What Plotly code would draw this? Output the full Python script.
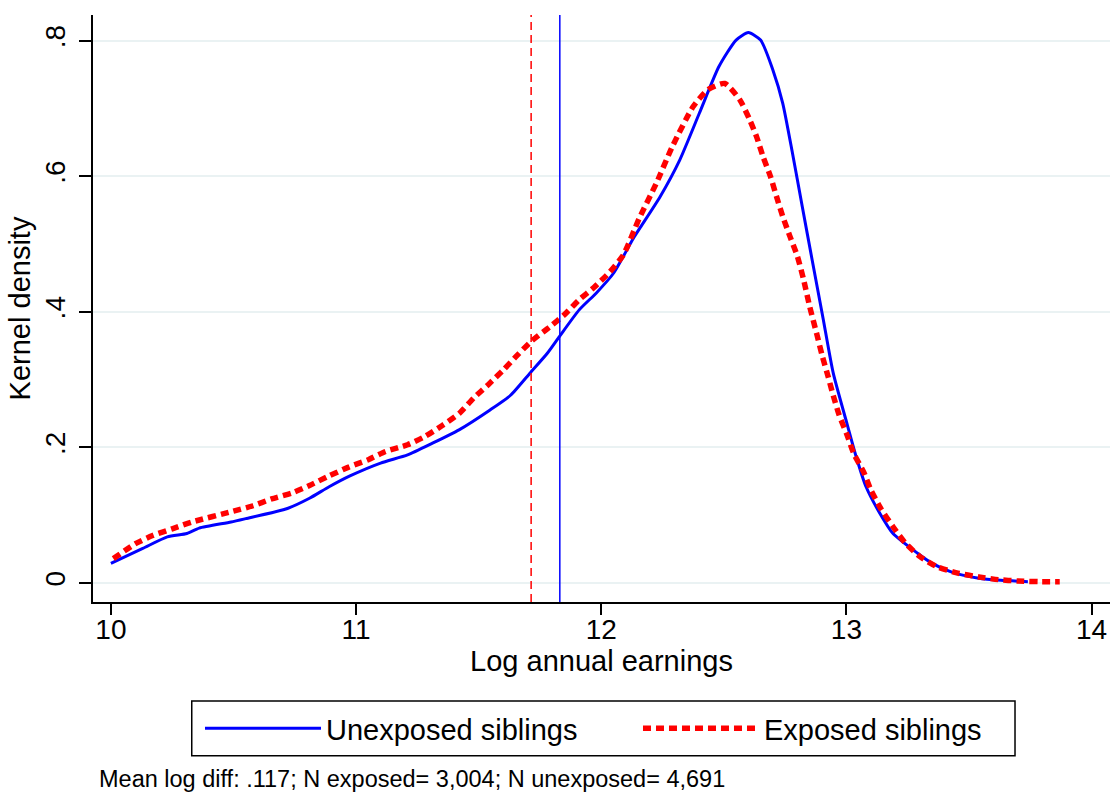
import plotly.graph_objects as go

# Kernel density, unexposed siblings (solid blue)
unexp_x = [10.00, 10.13, 10.23, 10.31, 10.36, 10.49, 10.55, 10.72, 10.81, 10.89,
           10.975, 11.10, 11.21, 11.31, 11.42, 11.545, 11.63, 11.71, 11.78, 11.83,
           11.91, 11.98, 12.05, 12.13, 12.16, 12.24, 12.32, 12.40, 12.48, 12.55,
           12.60, 12.65, 12.70, 12.74, 12.78, 12.82, 12.86, 12.905, 12.946, 13.00,
           13.04, 13.08, 13.136, 13.19, 13.29, 13.35, 13.43, 13.54, 13.63, 13.74]
unexp_y = [0.029, 0.051, 0.068, 0.073, 0.081, 0.090, 0.095, 0.110, 0.125, 0.142,
           0.158, 0.177, 0.189, 0.206, 0.226, 0.255, 0.277, 0.310, 0.339, 0.364,
           0.403, 0.428, 0.457, 0.508, 0.525, 0.570, 0.624, 0.693, 0.762, 0.801,
           0.812, 0.801, 0.757, 0.708, 0.634, 0.555, 0.477, 0.390, 0.310, 0.238,
           0.186, 0.142, 0.103, 0.073, 0.044, 0.029, 0.016, 0.007, 0.004, 0.002]

# Kernel density, exposed siblings (dashed red)
exp_x = [10.01, 10.10, 10.17, 10.25, 10.33, 10.50, 10.58, 10.655, 10.74, 10.81,
         10.89, 10.97, 11.05, 11.12, 11.21, 11.28, 11.35, 11.42, 11.48, 11.54,
         11.60, 11.66, 11.716, 11.79, 11.85, 11.91, 11.97, 12.035, 12.09, 12.155,
         12.225, 12.29, 12.375, 12.436, 12.504, 12.565, 12.606, 12.633, 12.66, 12.69,
         12.715, 12.74, 12.77, 12.80, 12.825, 12.85, 12.88, 12.90, 12.925, 12.946,
         12.97, 13.00, 13.03, 13.07, 13.10, 13.14, 13.19, 13.24, 13.30, 13.37,
         13.45, 13.54, 13.62, 13.70, 13.79, 13.87]
exp_y = [0.036, 0.058, 0.070, 0.080, 0.090, 0.106, 0.114, 0.124, 0.133, 0.144,
         0.158, 0.171, 0.182, 0.194, 0.204, 0.216, 0.232, 0.250, 0.273, 0.293,
         0.314, 0.337, 0.357, 0.378, 0.396, 0.418, 0.436, 0.459, 0.484, 0.538,
         0.590, 0.644, 0.703, 0.728, 0.737, 0.713, 0.683, 0.659, 0.629, 0.600,
         0.570, 0.541, 0.511, 0.482, 0.448, 0.408, 0.366, 0.337, 0.305, 0.277,
         0.248, 0.221, 0.191, 0.164, 0.137, 0.110, 0.083, 0.059, 0.039, 0.024,
         0.015, 0.009, 0.005, 0.003, 0.002, 0.002]

# Group means (vertical reference lines)
mean_exposed = 11.714
mean_unexposed = 11.831

x_ticks = [10, 11, 12, 13, 14]
x_tick_text = ["10", "11", "12", "13", "14"]
y_ticks = [0, 0.2, 0.4, 0.6, 0.8]
y_tick_text = ["0", ".2", ".4", ".6", ".8"]

note_text = "Mean log diff: .117; N exposed= 3,004; N unexposed= 4,691"

FONT = "Liberation Sans, Arial, Helvetica, sans-serif"

fig = go.Figure()
fig.add_trace(go.Scatter(
    x=unexp_x, y=unexp_y, mode="lines", name="Unexposed siblings",
    line=dict(color="#0000ff", width=3, shape="spline", smoothing=0.6),
))
fig.add_trace(go.Scatter(
    x=exp_x, y=exp_y, mode="lines", name="Exposed siblings",
    line=dict(color="#ff0000", width=5.5, dash="8px,5px", shape="spline", smoothing=0.6),
))

fig.add_vline(x=mean_exposed, line=dict(color="#ff0000", width=1.5, dash="8px,5px"))
fig.add_vline(x=mean_unexposed, line=dict(color="#0000ff", width=1.5))

# legend frame
fig.add_shape(type="rect", xref="paper", yref="paper",
              x0=0.0971, x1=0.9066, y0=-0.2618, y1=-0.1687,
              line=dict(color="black", width=1.5), fillcolor="rgba(0,0,0,0)",
              layer="above")

fig.add_annotation(
    text=note_text, xref="paper", yref="paper", x=0, y=-0.302,
    xanchor="left", yanchor="middle", xshift=4, showarrow=False,
    font=dict(family=FONT, size=23.5, color="black"),
)

fig.update_layout(
    width=1110, height=792,
    margin=dict(l=93, r=0, t=15, b=190, autoexpand=False),
    paper_bgcolor="white", plot_bgcolor="white",
    font=dict(family=FONT, color="black"),
    showlegend=True,
    legend=dict(
        orientation="h", x=0.1052, xanchor="left", y=-0.2155, yanchor="middle",
        font=dict(family=FONT, size=29, color="black"),
        borderwidth=0, bgcolor="rgba(0,0,0,0)",
        entrywidth=307, itemwidth=116,
    ),
)

fig.update_xaxes(
    range=[9.927, 14.075], tickvals=x_ticks, ticktext=x_tick_text,
    showgrid=False, zeroline=False, automargin=False,
    showline=True, linecolor="black", linewidth=1.5,
    ticks="outside", ticklen=11, tickwidth=1.5, tickcolor="black",
    ticklabelstandoff=-9, ticklabeloverflow="allow",
    tickfont=dict(family=FONT, size=28, color="black"),
    title=dict(text="Log annual earnings", standoff=5,
               font=dict(family=FONT, size=29, color="black")),
)
fig.update_yaxes(
    range=[-0.028, 0.838], tickvals=y_ticks, ticktext=y_tick_text,
    showgrid=True, gridcolor="#eaf2f3", gridwidth=1.5, zeroline=False, automargin=False,
    showline=True, linecolor="black", linewidth=1.5,
    ticks="outside", ticklen=12, tickwidth=1.5, tickcolor="black",
    ticklabelstandoff=3,
    tickangle=-90,
    tickfont=dict(family=FONT, size=28, color="black"),
    title=dict(text="Kernel density", standoff=1,
               font=dict(family=FONT, size=29, color="black")),
)

fig.write_html(
    "out.html",
    config={"displayModeBar": False},
    post_script="document.body.style.margin='0';document.body.style.overflow='hidden';",
)
